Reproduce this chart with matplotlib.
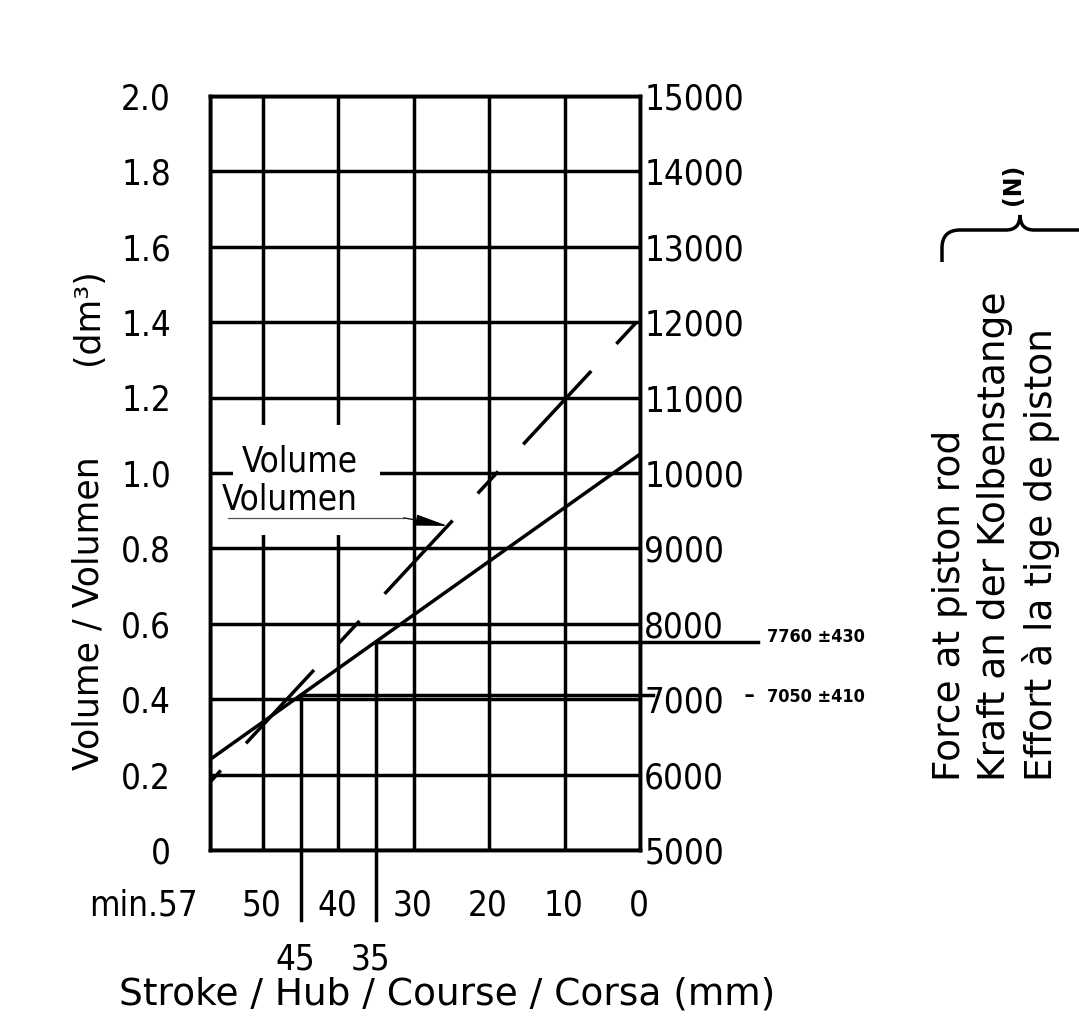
import numpy as np
import matplotlib
matplotlib.use("Agg")
import matplotlib.pyplot as plt
from matplotlib.patches import Rectangle, PathPatch
from matplotlib.path import Path

# --- data ----------------------------------------------------------------
stroke_ticks = [57, 50, 40, 30, 20, 10, 0]
stroke_tick_labels = ["min.57", "50", "40", "30", "20", "10", "0"]
stroke_marks = [45, 35]
stroke_mark_labels = ["45", "35"]

volume_ticks = [0, 0.2, 0.4, 0.6, 0.8, 1.0, 1.2, 1.4, 1.6, 1.8, 2.0]
volume_tick_labels = ["0", "0.2", "0.4", "0.6", "0.8", "1.0", "1.2", "1.4", "1.6", "1.8", "2.0"]
force_ticks = [5000, 6000, 7000, 8000, 9000, 10000, 11000, 12000, 13000, 14000, 15000]

line_stroke = [57, 0]
volume_dm3 = [0.18, 1.41]     # dashed
force_n = [6200, 10250]       # solid

check_force = [7050, 7760]    # at stroke 45 / 35
check_tol = [410, 430]

plt.rcParams["font.family"] = "DejaVu Sans"
plt.rcParams["font.stretch"] = "condensed"
plt.rcParams["lines.scale_dashes"] = False

W, H = 1079, 1018
fig = plt.figure(figsize=(W / 100, H / 100), dpi=100)


def fx(px):
    return px / W


def fy(py):
    return 1 - py / H


LW = 2.5
FS = 25

ax = fig.add_axes([fx(210), fy(850), fx(640) - fx(210), fy(96) - fy(850)])
ax.set_xlim(57, 0)
ax.set_ylim(0, 2.0)
ax.set_xticks(stroke_ticks)
ax.set_xticklabels([])
ax.set_yticks(volume_ticks)
ax.set_yticklabels(volume_tick_labels, fontsize=FS)
ax.tick_params(length=0)
ax.tick_params(axis="y", pad=28)
ax.grid(True, color="k", lw=LW)
ax.set_axisbelow(True)
for s in ax.spines.values():
    s.set_linewidth(LW)

tw = ax.twinx()
tw.set_ylim(5000, 15000)
tw.set_yticks(force_ticks)
tw.set_yticklabels([str(f) for f in force_ticks], fontsize=FS)
tw.tick_params(length=0, pad=3)
for s in tw.spines.values():
    s.set_linewidth(LW)

# volume (dashed) and force (solid)
ax.plot(line_stroke, volume_dm3, color="k", lw=LW,
        linestyle=(108.7, (72, 26.6, 21.6, 26.6)), zorder=3)
tw.plot(line_stroke, force_n, color="k", lw=LW, zorder=3)

# check points 45 mm / 35 mm
below = 4072
tw.plot([stroke_marks[0]] * 2, [below, check_force[0]], color="k", lw=LW, clip_on=False)
tw.plot([stroke_marks[1]] * 2, [below, check_force[1]], color="k", lw=LW, clip_on=False)
tw.plot([stroke_marks[0], -1.7], [check_force[0]] * 2, color="k", lw=LW, clip_on=False)
tw.plot([stroke_marks[1], -15.6], [check_force[1]] * 2, color="k", lw=LW, clip_on=False)

tw.annotate(f"{check_force[1]} \u00b1{check_tol[1]}", xy=(0, check_force[1]),
            xytext=(127, 5), textcoords="offset pixels", ha="left", va="center",
            fontsize=13, fontweight="bold")
tw.annotate("-", xy=(0, check_force[0]), xytext=(109, 0), textcoords="offset pixels",
            ha="center", va="center", fontsize=FS)
tw.annotate(f"{check_force[0]} \u00b1{check_tol[0]}", xy=(0, check_force[0]),
            xytext=(127, -2), textcoords="offset pixels", ha="left", va="center",
            fontsize=13, fontweight="bold")

# stroke labels
for s, lbl in zip(stroke_ticks, stroke_tick_labels):
    if lbl.startswith("min"):
        ax.annotate(lbl, xy=(s, 0), xycoords=("data", "axes fraction"), xytext=(-12, -56),
                    textcoords="offset pixels", ha="right", va="center", fontsize=FS)
    else:
        ax.annotate(lbl, xy=(s, 0), xycoords=("data", "axes fraction"), xytext=(-1, -56),
                    textcoords="offset pixels", ha="center", va="center", fontsize=FS)
for s, lbl in zip(stroke_marks, stroke_mark_labels):
    ax.annotate(lbl, xy=(s, 0), xycoords=("data", "axes fraction"), xytext=(-5, -110),
                textcoords="offset pixels", ha="center", va="center", fontsize=FS)

# volume label with leader arrow
ax.add_patch(Rectangle((34.4, 0.836), 19.6, 0.29, facecolor="white", edgecolor="none", zorder=1))
ax.text(37.4, 0.981, "Volume\nVolumen", ha="right", va="center", multialignment="right",
        linespacing=1.15, fontsize=FS, zorder=4)
ax.plot([54.6, 31.3], [0.881, 0.881], color="#555555", lw=0.9, zorder=4)
tip_s = 25.5
tip_v = np.interp(tip_s, line_stroke[::-1], volume_dm3[::-1])
ax.annotate("", xy=(tip_s, tip_v), xytext=(31.3, 0.881),
            arrowprops=dict(arrowstyle="-|>,head_length=2.0,head_width=0.35",
                            color="k", lw=0.9, shrinkA=0, shrinkB=0, mutation_scale=10),
            zorder=4)

# axis titles
fig.text(fx(88), fy(770), "Volume / Volumen", rotation=90, rotation_mode="anchor",
         ha="left", va="center", fontsize=25, fontstretch="normal")
fig.text(fx(88), fy(365), "(dm\u00b3)", rotation=90, rotation_mode="anchor",
         ha="left", va="center", fontsize=25, fontstretch="normal")
fig.text(fx(119), fy(995), "Stroke / Hub / Course / Corsa (mm)", ha="left", va="center",
         fontsize=27, fontstretch="normal")

for x, txt in zip([950, 995, 1041],
                  ["Force at piston rod", "Kraft an der Kolbenstange", "Effort \u00e0 la tige de piston"]):
    fig.text(fx(x), fy(781), txt, rotation=90, rotation_mode="anchor",
             ha="left", va="center", fontsize=27, fontstretch="normal")

# brace over the force titles
verts = [(942, 262), (942, 248), (942, 230), (960, 230), (1006, 230), (1020, 230), (1020, 215),
         (1020, 230), (1034, 230), (1079, 230)]
codes = [Path.MOVETO, Path.LINETO, Path.CURVE3, Path.CURVE3, Path.LINETO, Path.CURVE3, Path.CURVE3,
         Path.CURVE3, Path.CURVE3, Path.LINETO]
brace = Path([(fx(a), fy(b)) for a, b in verts], codes)
fig.add_artist(PathPatch(brace, transform=fig.transFigure, fill=False, lw=LW, edgecolor="k"))
fig.text(fx(1013), fy(184), "(N)", rotation=90, ha="center", va="center", fontsize=17,
         fontweight="bold", fontstretch="normal")

fig.savefig("out.png", dpi=100, facecolor="white")
